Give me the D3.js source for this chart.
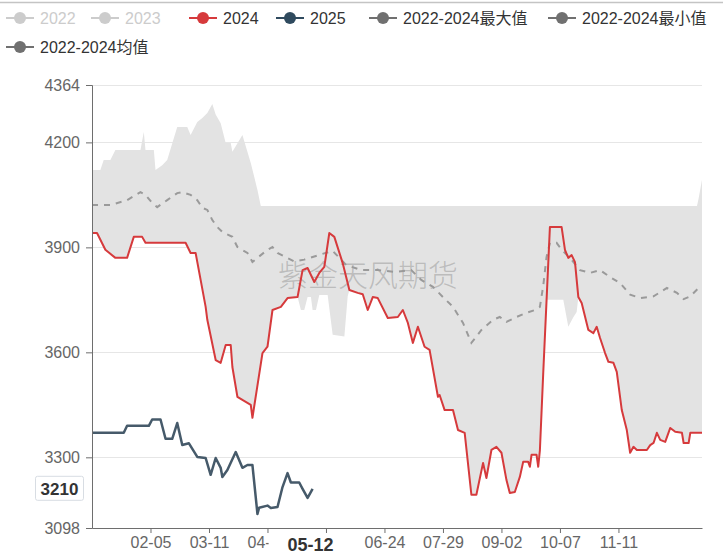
<!DOCTYPE html>
<html>
<head>
<meta charset="utf-8">
<script src="https://cdn.jsdelivr.net/npm/d3@7"></script>
<style>
  body { margin: 0; background: #fff; }
  svg { display: block; font-family: "Liberation Sans", "Noto Sans CJK SC", sans-serif; }
</style>
</head>
<body>
<script>
// legend entries (2022 / 2023 are switched off in the original)
const legendNames = ['2022', '2023', '2024', '2025', '2022-2024最大值', '2022-2024最小值', '2022-2024均值'];
const legendColors = ['#cccccc', '#cccccc', '#d63a3c', '#2f4a5e', '#707070', '#707070', '#707070'];

const yTicks = [3098, 3300, 3600, 3900, 4200, 4364];
const xTickLabels = ['02-05', '03-11', '04-15', '05-20', '06-24', '07-29', '09-02', '10-07', '11-11'];

const pointerDate = '05-12';
const pointerValue = 3210;

// [MM-DD, value]
const s2024 = [
  ['01-01', 3941], ['01-04', 3941], ['01-09', 3893], ['01-15', 3870], ['01-22', 3870], ['01-26', 3930],
  ['01-31', 3930], ['02-02', 3913], ['02-26', 3913], ['02-29', 3884], ['03-03', 3884], ['03-06', 3807],
  ['03-09', 3730], ['03-10', 3693], ['03-15', 3578], ['03-18', 3570], ['03-21', 3621], ['03-24', 3621],
  ['03-25', 3558], ['03-28', 3473], ['03-31', 3464], ['04-05', 3450], ['04-06', 3413], ['04-12', 3598],
  ['04-15', 3616], ['04-18', 3721], ['04-23', 3730], ['04-27', 3755], ['05-03', 3758], ['05-06', 3835],
  ['05-09', 3841], ['05-13', 3801], ['05-16', 3827], ['05-19', 3844], ['05-22', 3941], ['05-25', 3930],
  ['05-30', 3855], ['06-03', 3778], ['06-08', 3770], ['06-11', 3766], ['06-14', 3721], ['06-17', 3758],
  ['06-20', 3755], ['06-26', 3698], ['07-02', 3701], ['07-05', 3721], ['07-08', 3684], ['07-11', 3627],
  ['07-14', 3673], ['07-18', 3616], ['07-21', 3607], ['07-26', 3473], ['07-27', 3478], ['07-30', 3435],
  ['08-04', 3435], ['08-07', 3378], ['08-11', 3370], ['08-15', 3193], ['08-18', 3193], ['08-22', 3284],
  ['08-24', 3241], ['08-27', 3321], ['08-30', 3330], ['09-02', 3313], ['09-05', 3235], ['09-07', 3198],
  ['09-10', 3201], ['09-13', 3244], ['09-15', 3287], ['09-18', 3287], ['09-19', 3273], ['09-20', 3307],
  ['09-23', 3307], ['09-24', 3273], ['09-25', 3320], ['09-27', 3541], ['09-29', 3750], ['10-01', 3958],
  ['10-08', 3958], ['10-10', 3893], ['10-12', 3870], ['10-14', 3878], ['10-16', 3858], ['10-18', 3758],
  ['10-20', 3741], ['10-24', 3664], ['10-27', 3655], ['10-29', 3673], ['10-31', 3641], ['11-03', 3598],
  ['11-05', 3573], ['11-08', 3570], ['11-10', 3544], ['11-13', 3435], ['11-16', 3378], ['11-18', 3313],
  ['11-20', 3330], ['11-22', 3321], ['11-28', 3321], ['11-30', 3335], ['12-02', 3341], ['12-04', 3370],
  ['12-06', 3350], ['12-09', 3344], ['12-12', 3384], ['12-15', 3373], ['12-19', 3370], ['12-20', 3341],
  ['12-23', 3341], ['12-24', 3370], ['12-31', 3370]
];

const s2025 = [
  ['01-01', 3370], ['01-20', 3370], ['01-22', 3390], ['02-04', 3390], ['02-06', 3408], ['02-11', 3408],
  ['02-14', 3353], ['02-18', 3353], ['02-21', 3398], ['02-24', 3335], ['02-28', 3340], ['03-04', 3301],
  ['03-09', 3298], ['03-12', 3250], ['03-15', 3298], ['03-18', 3270], ['03-19', 3244], ['03-22', 3264],
  ['03-27', 3315], ['03-31', 3270], ['04-03', 3278], ['04-06', 3278], ['04-09', 3138], ['04-10', 3156],
  ['04-15', 3162], ['04-17', 3155], ['04-21', 3158], ['04-24', 3215], ['04-27', 3255], ['04-29', 3228],
  ['05-04', 3228], ['05-06', 3210], ['05-09', 3184], ['05-12', 3210]
];

const sMax = [
  ['01-01', 4121], ['01-06', 4121], ['01-08', 4150], ['01-12', 4150], ['01-15', 4178], ['01-30', 4178],
  ['02-01', 4230], ['02-02', 4178], ['02-07', 4178], ['02-08', 4121], ['02-12', 4135], ['02-15', 4150],
  ['02-21', 4244], ['02-27', 4244], ['02-29', 4221], ['03-04', 4258], ['03-07', 4270], ['03-10', 4284],
  ['03-13', 4310], ['03-15', 4280], ['03-18', 4255], ['03-21', 4198], ['03-24', 4198], ['03-25', 4173],
  ['03-31', 4221], ['04-05', 4141], ['04-09', 4064], ['04-11', 4018], ['12-28', 4018], ['12-29', 4040],
  ['12-31', 4093]
];

const sMin = [
  ['01-01', 3941], ['01-04', 3941], ['01-09', 3893], ['01-15', 3870], ['01-22', 3870], ['01-26', 3930],
  ['01-31', 3930], ['02-02', 3913], ['02-26', 3913], ['02-29', 3884], ['03-03', 3884], ['03-06', 3807],
  ['03-09', 3730], ['03-10', 3693], ['03-15', 3578], ['03-18', 3570], ['03-21', 3621], ['03-24', 3621],
  ['03-25', 3558], ['03-28', 3473], ['03-31', 3464], ['04-05', 3450], ['04-06', 3413], ['04-12', 3598],
  ['04-15', 3616], ['04-18', 3721], ['04-23', 3730], ['04-27', 3755], ['05-03', 3758], ['05-05', 3721],
  ['05-07', 3721], ['05-09', 3758], ['05-11', 3758], ['05-12', 3721], ['05-14', 3721], ['05-16', 3764],
  ['05-21', 3764], ['05-24', 3650], ['05-31', 3645], ['06-02', 3760], ['06-03', 3778], ['06-08', 3770],
  ['06-11', 3766], ['06-14', 3721], ['06-17', 3758], ['06-20', 3755], ['06-26', 3698], ['07-02', 3701],
  ['07-05', 3721], ['07-08', 3684], ['07-11', 3627], ['07-14', 3673], ['07-18', 3616], ['07-21', 3607],
  ['07-26', 3473], ['07-27', 3478], ['07-30', 3435], ['08-04', 3435], ['08-07', 3378], ['08-11', 3370],
  ['08-15', 3193], ['08-18', 3193], ['08-22', 3284], ['08-24', 3241], ['08-27', 3321], ['08-30', 3330],
  ['09-02', 3313], ['09-05', 3235], ['09-07', 3198], ['09-10', 3201], ['09-13', 3244], ['09-15', 3287],
  ['09-18', 3287], ['09-19', 3273], ['09-20', 3307], ['09-23', 3307], ['09-24', 3273], ['09-25', 3320],
  ['09-27', 3541], ['09-29', 3750], ['10-09', 3750], ['10-12', 3673], ['10-15', 3700], ['10-17', 3715],
  ['10-18', 3758], ['10-20', 3741], ['10-24', 3664], ['10-27', 3655], ['10-29', 3673], ['10-31', 3641],
  ['11-03', 3598], ['11-05', 3573], ['11-08', 3570], ['11-10', 3544], ['11-13', 3435], ['11-16', 3378],
  ['11-18', 3313], ['11-20', 3330], ['11-22', 3321], ['11-28', 3321], ['11-30', 3335], ['12-02', 3341],
  ['12-04', 3370], ['12-06', 3350], ['12-09', 3344], ['12-12', 3384], ['12-15', 3373], ['12-19', 3370],
  ['12-20', 3341], ['12-23', 3341], ['12-24', 3370], ['12-31', 3370]
];

const sMean = [
  ['01-01', 4021], ['01-12', 4021], ['01-22', 4035], ['01-30', 4058], ['02-02', 4050], ['02-06', 4027],
  ['02-09', 4015], ['02-15', 4035], ['02-21', 4055], ['02-24', 4058], ['02-29', 4050], ['03-04', 4035],
  ['03-07', 4013], ['03-10', 4007], ['03-13', 3978], ['03-16', 3958], ['03-19', 3944], ['03-25', 3930],
  ['03-28', 3901], ['04-03', 3884], ['04-06', 3858], ['04-09', 3870], ['04-15', 3893], ['04-18', 3901],
  ['04-21', 3884], ['05-01', 3860], ['05-07', 3865], ['05-17', 3880], ['05-24', 3890], ['06-01', 3850],
  ['06-10', 3835], ['06-20', 3835], ['06-30', 3830], ['07-10', 3835], ['07-16', 3807], ['07-23', 3787],
  ['07-29', 3758], ['08-04', 3730], ['08-10', 3684], ['08-15', 3627], ['08-21', 3664], ['08-28', 3693],
  ['09-01', 3701], ['09-05', 3687], ['09-11', 3701], ['09-17', 3713], ['09-22', 3721], ['09-25', 3730],
  ['09-27', 3790], ['09-29', 3873], ['10-01', 3913], ['10-05', 3913], ['10-08', 3893], ['10-13', 3870],
  ['10-19', 3835], ['10-25', 3827], ['10-31', 3835], ['11-06', 3815], ['11-12', 3798], ['11-18', 3765],
  ['11-24', 3755], ['12-02', 3760], ['12-10', 3784], ['12-16', 3770], ['12-20', 3752], ['12-24', 3760],
  ['12-29', 3784], ['12-31', 3790]
];

const width = 723;
const height = 554;
const margin = { top: 85, right: 21, bottom: 26, left: 92 };

const parseDay = d3.utcParse('%Y-%m-%d');
const fmtDay = d3.utcFormat('%m-%d');
const day = md => parseDay('2024-' + md);

const svg = d3.select('body')
  .append('svg')
  .attr('width', width)
  .attr('height', height);

const x = d3.scaleUtc()
  .domain([day('01-01'), day('12-31')])
  .range([margin.left, width - margin.right]);

const y = d3.scaleLinear()
  .domain([3098, 4364])
  .range([height - margin.bottom, margin.top]);

// thin rule at the very top (screenshot edge)
svg.append('line')
  .attr('x1', 0).attr('x2', width)
  .attr('y1', 2.5).attr('y2', 2.5)
  .attr('stroke', '#c4c4c4')
  .attr('stroke-width', 1.5);

// grid lines
svg.append('g')
  .selectAll('line')
  .data(yTicks.filter(v => v !== 3098))
  .join('line')
  .attr('x1', margin.left)
  .attr('x2', width - margin.right)
  .attr('y1', d => Math.round(y(d)) + 0.5)
  .attr('y2', d => Math.round(y(d)) + 0.5)
  .attr('stroke', '#e6e6e6');

// max / min band
const line = d3.line()
  .x(d => x(day(d[0])))
  .y(d => y(d[1]));

svg.append('path')
  .attr('d', line(sMax.concat(sMin.slice().reverse())) + 'Z')
  .attr('fill', '#e3e3e3');

// watermark
svg.append('text')
  .attr('x', 368)
  .attr('y', 286)
  .attr('text-anchor', 'middle')
  .attr('font-family', '"Noto Sans CJK SC", sans-serif')
  .attr('font-size', 30)
  .attr('font-weight', 300)
  .attr('fill', 'rgba(140,140,140,0.45)')
  .text('紫金天风期货');

// mean (dashed)
svg.append('path')
  .attr('d', line(sMean))
  .attr('fill', 'none')
  .attr('stroke', '#9a9a9a')
  .attr('stroke-width', 2)
  .attr('stroke-dasharray', '6,6');

// 2024
svg.append('path')
  .attr('d', line(s2024))
  .attr('fill', 'none')
  .attr('stroke', '#d63a3c')
  .attr('stroke-width', 2)
  .attr('stroke-linejoin', 'round');

// 2025
svg.append('path')
  .attr('d', line(s2025))
  .attr('fill', 'none')
  .attr('stroke', '#465a6a')
  .attr('stroke-width', 2.5)
  .attr('stroke-linejoin', 'round');

// y axis
const yAxis = svg.append('g')
  .attr('transform', `translate(${margin.left},0)`)
  .call(d3.axisLeft(y).tickValues(yTicks).tickSize(6).tickPadding(6).tickFormat(d3.format('d')));
yAxis.select('.domain').attr('stroke', '#6e6e6e');
yAxis.selectAll('.tick line').attr('stroke', '#6e6e6e');
yAxis.selectAll('.tick text')
  .attr('font-size', 16)
  .attr('font-family', '"Liberation Sans", sans-serif')
  .attr('fill', '#666');

// x axis
const xAxis = svg.append('g')
  .attr('transform', `translate(0,${height - margin.bottom})`)
  .call(d3.axisBottom(x)
    .tickValues(xTickLabels.map(day))
    .tickFormat(fmtDay)
    .tickSize(5)
    .tickSizeOuter(0)
    .tickPadding(4));
xAxis.select('.domain').attr('stroke', '#6e6e6e');
xAxis.selectAll('.tick line').attr('stroke', '#6e6e6e');
xAxis.selectAll('.tick text')
  .attr('font-size', 16)
  .attr('font-family', '"Liberation Sans", sans-serif')
  .attr('fill', '#666');
// the pointer label sits on top of the 05-20 label in the original
xAxis.selectAll('.tick text')
  .filter(d => fmtDay(d) === '05-20')
  .remove();

// axis pointer labels
const px = x(day(pointerDate));
svg.append('rect')
  .attr('x', px - 44).attr('y', height - margin.bottom + 5)
  .attr('width', 84).attr('height', 22)
  .attr('fill', '#fff');
svg.append('text')
  .attr('x', px - 2)
  .attr('y', height - margin.bottom + 23)
  .attr('text-anchor', 'middle')
  .attr('font-size', 18)
  .attr('font-weight', 'bold')
  .attr('fill', '#333')
  .text(pointerDate);

const py = y(pointerValue);
svg.append('rect')
  .attr('x', 35.5).attr('y', py - 12.5)
  .attr('width', 48).attr('height', 24)
  .attr('rx', 2)
  .attr('fill', '#fff')
  .attr('stroke', '#d8dde3');
svg.append('text')
  .attr('x', 59.5)
  .attr('y', py + 6)
  .attr('text-anchor', 'middle')
  .attr('font-size', 17)
  .attr('font-weight', 'bold')
  .attr('fill', '#333')
  .text(pointerValue);

// legend
const legendPos = [
  { x: 6, y: 18 }, { x: 91, y: 18 }, { x: 189, y: 18 }, { x: 276, y: 18 },
  { x: 369, y: 18 }, { x: 548, y: 18 }, { x: 6, y: 47 }
];
const legend = svg.append('g')
  .selectAll('g')
  .data(legendNames)
  .join('g')
  .attr('transform', (d, i) => `translate(${legendPos[i].x},${legendPos[i].y})`);
legend.append('line')
  .attr('x1', 0).attr('x2', 28)
  .attr('stroke', (d, i) => legendColors[i])
  .attr('stroke-width', 2);
legend.append('circle')
  .attr('cx', 14)
  .attr('r', 6)
  .attr('fill', (d, i) => legendColors[i]);
legend.append('text')
  .attr('x', 34)
  .attr('y', 6)
  .attr('font-size', 16)
  .attr('fill', (d, i) => (i < 2 ? '#cccccc' : '#333'))
  .text(d => d);
</script>
</body>
</html>
